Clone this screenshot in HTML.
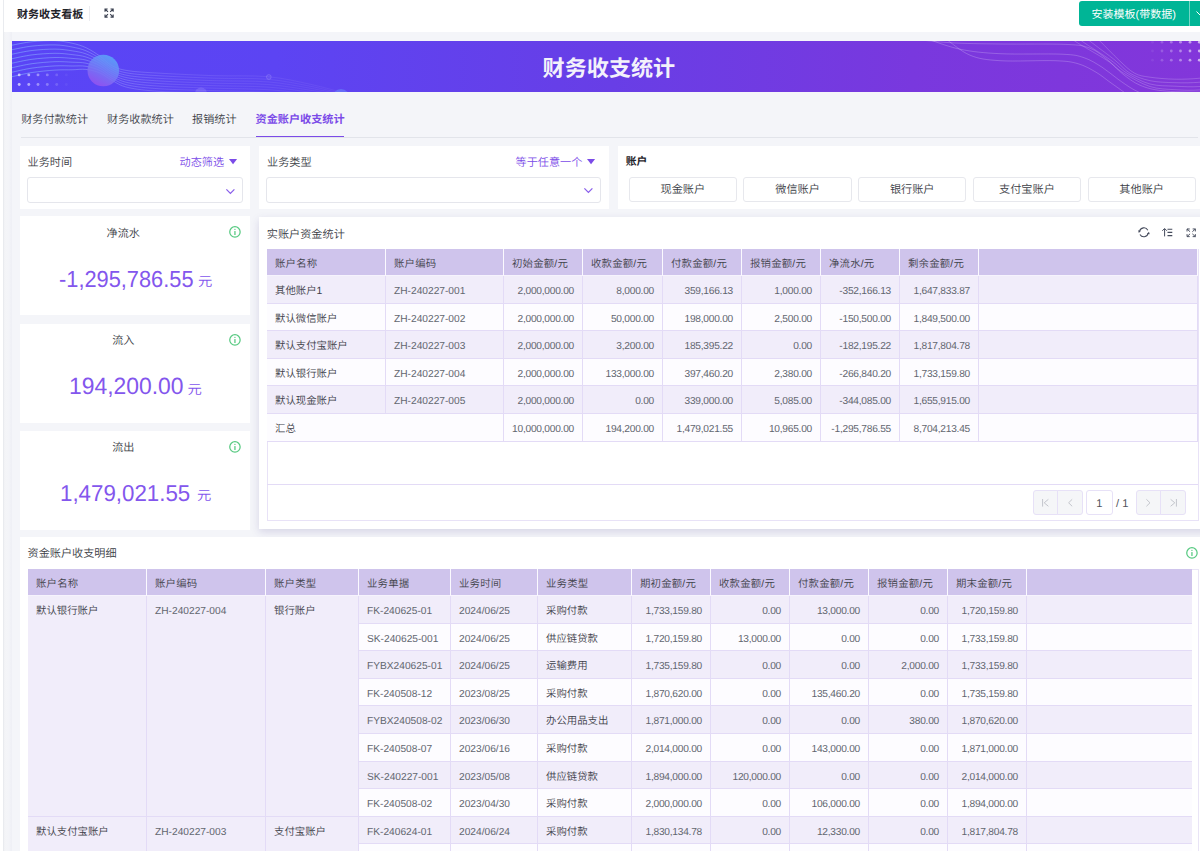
<!DOCTYPE html>
<html lang="zh-CN">
<head>
<meta charset="utf-8">
<title>财务收支看板</title>
<style>
*{box-sizing:border-box;margin:0;padding:0}
html,body{width:1200px;height:851px;overflow:hidden;background:#f4f5f9}
body{position:relative;font-family:"Liberation Sans","Noto Sans CJK SC",sans-serif;color:#3a3d45;font-size:11.15px;font-weight:350;-webkit-font-smoothing:antialiased;text-rendering:geometricPrecision}
.abs{position:absolute}
.t{position:absolute;white-space:nowrap;line-height:1;margin-top:.6px}
.card{position:absolute;background:#fff}
.num{letter-spacing:-0.24px}
/* table cells */
.c{position:absolute;overflow:hidden;white-space:nowrap;font-size:10.4px;font-weight:350;color:#3d4048;padding:0 8px;border-right:1px solid #e3dbf6;border-bottom:1px solid #e3dbf6}
.c.r{text-align:right;letter-spacing:-0.25px}
.c.h{letter-spacing:.2px;background:#cfc4ec;border-right:1px solid #fbfaff;border-bottom:1px solid #f6f3fd;color:#3f424a}
.c.l{color:#62666f;font-weight:400;font-size:10.2px}
.c.nl{border-right:0}
.c.o{background:#f1edfa}
.c.e{background:#fdfcff}
.sel{position:absolute;border:1px solid #e5e6ec;border-radius:3px;background:#fff}
.btn{position:absolute;border:1px solid #e7e8ed;border-radius:3px;background:#fff;text-align:center;font-size:11.15px}
.pg{position:absolute;background:#f5f6f8;border:1px solid #e7e1f7}
svg{position:absolute;overflow:visible}
</style>
</head>
<body>

<div class="abs" style="left:0;top:0;width:3px;height:851px;background:#fff"></div>
<div class="abs" style="left:3px;top:0;width:1px;height:851px;background:#e9ebef"></div>
<div class="abs" style="left:4px;top:32px;width:8px;height:819px;background:linear-gradient(90deg,#f1f2f5 0,#f4f5f8 25%,#f3f4f8 60%,#eeeff5 100%)"></div>
<div class="abs" style="left:4px;top:0;width:1196px;height:32px;background:#fff"></div>
<div class="t" style="left:17px;top:8.3px;font-size:11.05px;font-weight:700;color:#1f2329;line-height:12px">财务收支看板</div>
<div class="abs" style="left:89.3px;top:5.5px;width:1px;height:15px;background:#ebecf0"></div>
<svg style="left:103.8px;top:7.9px" width="10.2" height="10.2" viewBox="0 0 10 10"><path d="M1 3.6V1H3.6M1 1L3.9 3.9M6.4 1H9V3.6M9 1L6.1 3.9M1 6.4V9H3.6M1 9L3.9 6.1M9 6.4V9H6.4M9 9L6.1 6.1" fill="none" stroke="#3a4050" stroke-width="1.1" stroke-linecap="butt" stroke-linejoin="miter"/></svg>
<div class="abs" style="left:1078.7px;top:1px;width:140px;height:24.5px;background:#00b596;border-radius:3px"></div>
<div class="t" style="left:1091.6px;top:8.1px;font-size:11.0px;color:#fff;font-weight:400;line-height:12px">安装模板(带数据)</div>
<div class="abs" style="left:1188.5px;top:1px;width:1px;height:24.5px;background:rgba(255,255,255,.45)"></div>
<svg style="left:1195.5px;top:10.5px" width="8" height="5" viewBox="0 0 8 5"><path d="M0.5 0.5L4 4L7.5 0.5" fill="none" stroke="#fff" stroke-width="1"/></svg>
<div class="abs" style="left:12px;top:40.8px;width:1200px;height:51px;overflow:hidden;background:linear-gradient(90deg,#5945f6 0%,#5c44f3 22%,#683ee6 50%,#7938de 75%,#8336da 100%)">
<svg style="left:0;top:0" width="1200" height="51" viewBox="0 0 1200 51">
<defs><linearGradient id="cg" x1="0.75" y1="0.05" x2="0.3" y2="0.95"><stop offset="0" stop-color="#5aa9f9"/><stop offset="0.5" stop-color="#727ef6"/><stop offset="1" stop-color="#9655ef"/></linearGradient><linearGradient id="lg" gradientUnits="userSpaceOnUse" x1="0" y1="0" x2="340" y2="0"><stop offset="0" stop-color="#8fd0ff" stop-opacity=".62"/><stop offset=".28" stop-color="#b7c8ff" stop-opacity=".42"/><stop offset=".5" stop-color="#cfc8ff" stop-opacity=".2"/><stop offset="1" stop-color="#d9c8ff" stop-opacity=".07"/></linearGradient></defs>
<path d="M0 4.2C3.33 3.62 12.83 1.45 20 0.7C27.17 -0.05 36.33 -0.55 43 -0.3C49.67 -0.05 54.83 1.03 60 2.2C65.17 3.37 69.33 4.53 74 6.7C78.67 8.87 83.67 12.2 88 15.2C92.33 18.2 95.33 22.28 100 24.7C104.67 27.12 108 28.45 116 29.7C124 30.95 133.5 31.37 148 32.2C162.5 33.03 185 34.12 203 34.7C221 35.28 240.17 34.28 256 35.7C271.83 37.12 285.17 40.45 298 43.2C310.83 45.95 327.17 50.7 333 52.2" fill="none" stroke="url(#lg)" stroke-width=".75"/>
<path d="M0 8.7C3.33 8.1 12.83 5.9 20 5.1C27.17 4.3 36.33 3.75 43 3.9C49.67 4.05 54.83 5.02 60 6C65.17 6.98 69.33 7.87 74 9.8C78.67 11.73 83.67 14.77 88 17.6C92.33 20.43 95.33 24.38 100 26.8C104.67 29.22 108 30.77 116 32.1C124 33.43 133.5 33.95 148 34.8C162.5 35.65 185 36.62 203 37.2C221 37.78 240.17 36.97 256 38.3C271.83 39.63 285.17 42.72 298 45.2C310.83 47.68 327.17 51.87 333 53.2" fill="none" stroke="url(#lg)" stroke-width=".75"/>
<path d="M0 13.2C3.33 12.58 12.83 10.35 20 9.5C27.17 8.65 36.33 8.05 43 8.1C49.67 8.15 54.83 9 60 9.8C65.17 10.6 69.33 11.2 74 12.9C78.67 14.6 83.67 17.33 88 20C92.33 22.67 95.33 26.48 100 28.9C104.67 31.32 108 33.08 116 34.5C124 35.92 133.5 36.53 148 37.4C162.5 38.27 185 39.12 203 39.7C221 40.28 240.17 39.65 256 40.9C271.83 42.15 285.17 44.98 298 47.2C310.83 49.42 327.17 53.03 333 54.2" fill="none" stroke="url(#lg)" stroke-width=".75"/>
<path d="M0 17.7C3.33 17.07 12.83 14.8 20 13.9C27.17 13 36.33 12.35 43 12.3C49.67 12.25 54.83 12.98 60 13.6C65.17 14.22 69.33 14.53 74 16C78.67 17.47 83.67 19.9 88 22.4C92.33 24.9 95.33 28.58 100 31C104.67 33.42 108 35.4 116 36.9C124 38.4 133.5 39.12 148 40C162.5 40.88 185 41.62 203 42.2C221 42.78 240.17 42.33 256 43.5C271.83 44.67 285.17 47.25 298 49.2C310.83 51.15 327.17 54.2 333 55.2" fill="none" stroke="url(#lg)" stroke-width=".75"/>
<path d="M0 22.2C3.33 21.55 12.83 19.25 20 18.3C27.17 17.35 36.33 16.65 43 16.5C49.67 16.35 54.83 16.97 60 17.4C65.17 17.83 69.33 17.87 74 19.1C78.67 20.33 83.67 22.47 88 24.8C92.33 27.13 95.33 30.68 100 33.1C104.67 35.52 108 37.72 116 39.3C124 40.88 133.5 41.7 148 42.6C162.5 43.5 185 44.12 203 44.7C221 45.28 240.17 45.02 256 46.1C271.83 47.18 285.17 49.52 298 51.2C310.83 52.88 327.17 55.37 333 56.2" fill="none" stroke="url(#lg)" stroke-width=".75"/>
<path d="M0 26.7C3.33 26.03 12.83 23.7 20 22.7C27.17 21.7 36.33 20.95 43 20.7C49.67 20.45 54.83 20.95 60 21.2C65.17 21.45 69.33 21.2 74 22.2C78.67 23.2 83.67 25.03 88 27.2C92.33 29.37 95.33 32.78 100 35.2C104.67 37.62 108 40.03 116 41.7C124 43.37 133.5 44.28 148 45.2C162.5 46.12 185 46.62 203 47.2C221 47.78 240.17 47.7 256 48.7C271.83 49.7 285.17 51.78 298 53.2C310.83 54.62 327.17 56.53 333 57.2" fill="none" stroke="url(#lg)" stroke-width=".75"/>
<path d="M0 31.2C3.33 30.52 12.83 28.15 20 27.1C27.17 26.05 36.33 25.25 43 24.9C49.67 24.55 54.83 24.93 60 25C65.17 25.07 69.33 24.53 74 25.3C78.67 26.07 83.67 27.6 88 29.6C92.33 31.6 95.33 34.88 100 37.3C104.67 39.72 108 42.35 116 44.1C124 45.85 133.5 46.87 148 47.8C162.5 48.73 185 49.12 203 49.7C221 50.28 240.17 50.38 256 51.3C271.83 52.22 285.17 54.05 298 55.2C310.83 56.35 327.17 57.7 333 58.2" fill="none" stroke="url(#lg)" stroke-width=".75"/>
<path d="M0 35.7C3.33 35 12.83 32.6 20 31.5C27.17 30.4 36.33 29.55 43 29.1C49.67 28.65 54.83 28.92 60 28.8C65.17 28.68 69.33 27.87 74 28.4C78.67 28.93 83.67 30.17 88 32C92.33 33.83 95.33 36.98 100 39.4C104.67 41.82 108 44.67 116 46.5C124 48.33 133.5 49.45 148 50.4C162.5 51.35 185 51.62 203 52.2C221 52.78 240.17 53.07 256 53.9C271.83 54.73 285.17 56.32 298 57.2C310.83 58.08 327.17 58.87 333 59.2" fill="none" stroke="url(#lg)" stroke-width=".75"/>
<circle cx="91.3" cy="29.5" r="15.8" fill="url(#cg)" fill-opacity=".86"/>
<circle cx="7.2" cy="33.9" r="1.45" fill="#fff" fill-opacity="0.66"/>
<circle cx="16.8" cy="33.9" r="1.45" fill="#fff" fill-opacity="0.54"/>
<circle cx="26" cy="33.9" r="1.45" fill="#fff" fill-opacity="0.41"/>
<circle cx="35.3" cy="33.9" r="1.45" fill="#fff" fill-opacity="0.29"/>
<circle cx="44.7" cy="33.9" r="1.45" fill="#fff" fill-opacity="0.16"/>
<circle cx="54.3" cy="33.9" r="1.45" fill="#fff" fill-opacity="0.05"/>
<circle cx="7.2" cy="43.5" r="1.45" fill="#fff" fill-opacity="0.66"/>
<circle cx="16.8" cy="43.5" r="1.45" fill="#fff" fill-opacity="0.54"/>
<circle cx="26" cy="43.5" r="1.45" fill="#fff" fill-opacity="0.41"/>
<circle cx="35.3" cy="43.5" r="1.45" fill="#fff" fill-opacity="0.29"/>
<circle cx="44.7" cy="43.5" r="1.45" fill="#fff" fill-opacity="0.16"/>
<circle cx="54.3" cy="43.5" r="1.45" fill="#fff" fill-opacity="0.05"/>
<circle cx="256.8" cy="36" r="2.4" fill="#fff" fill-opacity=".05" stroke="#fff" stroke-opacity=".2" stroke-width=".7"/>
<circle cx="189" cy="52.5" r="6" fill="#b9b3ff" fill-opacity=".22"/>
<circle cx="329" cy="57" r="9" fill="#6f9bff" fill-opacity=".45"/>
<path d="M893 -2.8C900.5 -2.05 922.17 0.73 938 1.7C953.83 2.67 968.67 2.72 988 3C1007.33 3.28 1039 2.7 1054 3.4C1069 4.1 1071 4.57 1078 7.2C1085 9.83 1090.5 14.87 1096 19.2C1101.5 23.53 1105.67 29.03 1111 33.2C1116.33 37.37 1121.5 41.45 1128 44.2C1134.5 46.95 1140 48.53 1150 49.7C1160 50.87 1177.5 51.28 1188 51.2C1198.5 51.12 1208.83 49.53 1213 49.2" fill="none" stroke="#fff" stroke-opacity=".3" stroke-width=".7"/>
<path d="M913 -2.8C918.83 -0.97 935.5 5.62 948 8.2C960.5 10.78 971 11.87 988 12.7C1005 13.53 1036 12.53 1050 13.2C1064 13.87 1065.33 14.53 1072 16.7C1078.67 18.87 1084.33 22.62 1090 26.2C1095.67 29.78 1100.83 34.53 1106 38.2C1111.17 41.87 1116 45.37 1121 48.2C1126 51.03 1133.5 54.03 1136 55.2" fill="none" stroke="#fff" stroke-opacity=".3" stroke-width=".7"/>
<path d="M933 -2.8C937.17 0.03 948.83 10.45 958 14.2C967.17 17.95 973.83 18.78 988 19.7C1002.17 20.62 1030 19.2 1043 19.7C1056 20.2 1059.17 20.78 1066 22.7C1072.83 24.62 1078.67 28.12 1084 31.2C1089.33 34.28 1093.33 37.87 1098 41.2C1102.67 44.53 1108.67 48.7 1112 51.2C1115.33 53.7 1117 55.37 1118 56.2" fill="none" stroke="#fff" stroke-opacity=".3" stroke-width=".7"/>
<path d="M1050 -10.8C1052.17 -8.97 1055.55 -4.8 1063 0.2C1070.45 5.2 1086.58 13.87 1094.7 19.2C1102.82 24.53 1104.48 27.82 1111.7 32.2C1118.92 36.58 1129.45 42.75 1138 45.5C1146.55 48.25 1154.67 48.13 1163 48.7C1171.33 49.27 1179.67 49.53 1188 48.9C1196.33 48.27 1208.83 45.57 1213 44.9" fill="none" stroke="#fff" stroke-opacity=".28" stroke-width=".7"/>
<path d="M1057 -10.8C1059.17 -8.97 1063.03 -4.8 1070 0.2C1076.97 5.2 1091.3 13.87 1098.8 19.2C1106.3 24.53 1108.47 28.23 1115 32.2C1121.53 36.17 1130 40.83 1138 43C1146 45.17 1154.67 44.78 1163 45.2C1171.33 45.62 1179.67 46.12 1188 45.5C1196.33 44.88 1208.83 42.17 1213 41.5" fill="none" stroke="#fff" stroke-opacity=".28" stroke-width=".7"/>
<path d="M1065 -10.8C1067.17 -8.97 1071.67 -4.8 1078 0.2C1084.33 5.2 1096.33 13.87 1103 19.2C1109.67 24.53 1112.17 28.78 1118 32.2C1123.83 35.62 1130.5 38.12 1138 39.7C1145.5 41.28 1154.67 41.45 1163 41.7C1171.33 41.95 1179.67 41.95 1188 41.2C1196.33 40.45 1208.83 37.87 1213 37.2" fill="none" stroke="#fff" stroke-opacity=".28" stroke-width=".7"/>
<path d="M1075 -10.8C1077.17 -8.97 1082.67 -4.8 1088 0.2C1093.33 5.2 1101.25 13.87 1107 19.2C1112.75 24.53 1117.33 29.37 1122.5 32.2C1127.67 35.03 1131.25 35.2 1138 36.2C1144.75 37.2 1154.67 38.03 1163 38.2C1171.33 38.37 1179.67 38.03 1188 37.2C1196.33 36.37 1208.83 33.87 1213 33.2" fill="none" stroke="#fff" stroke-opacity=".28" stroke-width=".7"/>
<circle cx="1140.5" cy="1.2" r="1.4" fill="#fff" fill-opacity="0.07"/>
<circle cx="1150" cy="1.2" r="1.4" fill="#fff" fill-opacity="0.18"/>
<circle cx="1159.3" cy="1.2" r="1.4" fill="#fff" fill-opacity="0.29"/>
<circle cx="1168.5" cy="1.2" r="1.4" fill="#fff" fill-opacity="0.4"/>
<circle cx="1178" cy="1.2" r="1.4" fill="#fff" fill-opacity="0.51"/>
<circle cx="1187.3" cy="1.2" r="1.4" fill="#fff" fill-opacity="0.62"/>
<circle cx="1140.5" cy="10" r="1.4" fill="#fff" fill-opacity="0.07"/>
<circle cx="1150" cy="10" r="1.4" fill="#fff" fill-opacity="0.18"/>
<circle cx="1159.3" cy="10" r="1.4" fill="#fff" fill-opacity="0.29"/>
<circle cx="1168.5" cy="10" r="1.4" fill="#fff" fill-opacity="0.4"/>
<circle cx="1178" cy="10" r="1.4" fill="#fff" fill-opacity="0.51"/>
<circle cx="1187.3" cy="10" r="1.4" fill="#fff" fill-opacity="0.62"/>
<circle cx="1140.5" cy="19.2" r="1.4" fill="#fff" fill-opacity="0.07"/>
<circle cx="1150" cy="19.2" r="1.4" fill="#fff" fill-opacity="0.18"/>
<circle cx="1159.3" cy="19.2" r="1.4" fill="#fff" fill-opacity="0.29"/>
<circle cx="1168.5" cy="19.2" r="1.4" fill="#fff" fill-opacity="0.4"/>
<circle cx="1178" cy="19.2" r="1.4" fill="#fff" fill-opacity="0.51"/>
<circle cx="1187.3" cy="19.2" r="1.4" fill="#fff" fill-opacity="0.62"/>
</svg>
<div class="t" style="left:530.6px;top:15.7px;font-size:22.1px;font-weight:700;color:#f3f1fb;line-height:23px">财务收支统计</div>
</div>
<div class="abs" style="left:21px;top:136.6px;width:1176.5px;height:1px;background:#e2e4ea"></div>
<div class="t" style="left:21.2px;top:113.6px;font-size:11.15px;line-height:12px;color:#3c3f47">财务付款统计</div>
<div class="t" style="left:107px;top:113.6px;font-size:11.15px;line-height:12px;color:#3c3f47">财务收款统计</div>
<div class="t" style="left:192px;top:113.6px;font-size:11.15px;line-height:12px;color:#3c3f47">报销统计</div>
<div class="t" style="left:255.5px;top:113.6px;font-size:11.15px;line-height:12px;color:#7b4be8;font-weight:700">资金账户收支统计</div>
<div class="abs" style="left:255.5px;top:135.7px;width:88.3px;height:1.7px;background:#7b4be8"></div>
<div class="card" style="left:20px;top:145.5px;width:230px;height:63.25px"></div>
<div class="card" style="left:258.5px;top:145.5px;width:350.2px;height:63.25px"></div>
<div class="card" style="left:617.5px;top:145.5px;width:590px;height:63.25px"></div>
<div class="t" style="left:27.5px;top:156.6px;font-size:11.15px;line-height:12px">业务时间</div>
<div class="t" style="left:179.5px;top:156.6px;font-size:11.15px;line-height:12px;color:#7b4be8">动态筛选</div>
<svg style="left:228.5px;top:159.3px" width="8.1" height="5.2" viewBox="0 0 8.1 5.2"><path d="M0 0H8.1L4.05 5.2Z" fill="#7b4be8"/></svg>
<div class="sel" style="left:27px;top:177px;width:215.5px;height:25.5px"></div>
<svg style="left:226.3px;top:188.8px" width="8.8" height="5" viewBox="0 0 8.8 5"><path d="M0.4 0.4L4.4 4.4L8.4 0.4" fill="none" stroke="#7b4be8" stroke-width="1.25" stroke-opacity=".9"/></svg>
<div class="t" style="left:267px;top:156.6px;font-size:11.15px;line-height:12px">业务类型</div>
<div class="t" style="left:515.5px;top:156.6px;font-size:11.15px;line-height:12px;color:#7b4be8">等于任意一个</div>
<svg style="left:586.9px;top:159.3px" width="8.1" height="5.2" viewBox="0 0 8.1 5.2"><path d="M0 0H8.1L4.05 5.2Z" fill="#7b4be8"/></svg>
<div class="sel" style="left:266.2px;top:177px;width:335px;height:25.5px"></div>
<svg style="left:583.5px;top:188.1px" width="8.8" height="5" viewBox="0 0 8.8 5"><path d="M0.4 0.4L4.4 4.4L8.4 0.4" fill="none" stroke="#7b4be8" stroke-width="1.25" stroke-opacity=".9"/></svg>
<div class="t" style="left:625.7px;top:155.9px;font-size:10.8px;line-height:12px;font-weight:700;color:#1f2329">账户</div>
<div class="btn" style="left:628.75px;top:176.5px;width:108.2px;height:25px;line-height:25.4px">现金账户</div>
<div class="btn" style="left:743.45px;top:176.5px;width:108.2px;height:25px;line-height:25.4px">微信账户</div>
<div class="btn" style="left:858.15px;top:176.5px;width:108.2px;height:25px;line-height:25.4px">银行账户</div>
<div class="btn" style="left:972.85px;top:176.5px;width:108.2px;height:25px;line-height:25.4px">支付宝账户</div>
<div class="btn" style="left:1087.55px;top:176.5px;width:108.2px;height:25px;line-height:25.4px">其他账户</div>
<div class="card" style="left:20px;top:216.3px;width:230px;height:99.1px"></div>
<div class="t" style="left:20px;width:206.6px;text-align:center;top:227.5px;font-size:11.15px;line-height:12px">净流水</div>
<svg style="left:229px;top:226.4px" width="11.9" height="11.9" viewBox="0 0 12 12"><circle cx="6" cy="6" r="5.25" fill="none" stroke="#58ca82" stroke-width="1.25"/><circle cx="6" cy="3.4" r=".75" fill="#58ca82"/><rect x="5.35" y="5" width="1.3" height="4.2" rx=".4" fill="#58ca82"/></svg>
<div class="t" style="left:59px;top:265px;line-height:26px;color:#8356ed;font-size:23.2px;font-weight:400;transform:scaleX(0.94);transform-origin:0 0">-1,295,786.55</div>
<div class="t" style="left:198.1px;top:273.6px;line-height:16px;color:#8356ed;font-size:14.3px;transform:scaleY(.9);transform-origin:0 100%">元</div>
<div class="card" style="left:20px;top:323.7px;width:230px;height:99.1px"></div>
<div class="t" style="left:20px;width:206.6px;text-align:center;top:334.9px;font-size:11.15px;line-height:12px">流入</div>
<svg style="left:229px;top:333.8px" width="11.9" height="11.9" viewBox="0 0 12 12"><circle cx="6" cy="6" r="5.25" fill="none" stroke="#58ca82" stroke-width="1.25"/><circle cx="6" cy="3.4" r=".75" fill="#58ca82"/><rect x="5.35" y="5" width="1.3" height="4.2" rx=".4" fill="#58ca82"/></svg>
<div class="t" style="left:69.4px;top:373.4px;line-height:26px;color:#8356ed;font-size:23.6px;font-weight:400;transform:scaleX(0.97);transform-origin:0 0">194,200.00</div>
<div class="t" style="left:187.5px;top:381px;line-height:16px;color:#8356ed;font-size:14.3px;transform:scaleY(.9);transform-origin:0 100%">元</div>
<div class="card" style="left:20px;top:430.6px;width:230px;height:99.1px"></div>
<div class="t" style="left:20px;width:206.6px;text-align:center;top:441.8px;font-size:11.15px;line-height:12px">流出</div>
<svg style="left:229px;top:440.7px" width="11.9" height="11.9" viewBox="0 0 12 12"><circle cx="6" cy="6" r="5.25" fill="none" stroke="#58ca82" stroke-width="1.25"/><circle cx="6" cy="3.4" r=".75" fill="#58ca82"/><rect x="5.35" y="5" width="1.3" height="4.2" rx=".4" fill="#58ca82"/></svg>
<div class="t" style="left:60.25px;top:479.1px;line-height:26px;color:#8356ed;font-size:23px;font-weight:400;transform:scaleX(0.97);transform-origin:0 0">1,479,021.55</div>
<div class="t" style="left:197.1px;top:487.9px;line-height:16px;color:#8356ed;font-size:14.3px;transform:scaleY(.9);transform-origin:0 100%">元</div>
<div class="card" style="left:258.75px;top:216.6px;width:950px;height:312.6px;box-shadow:0 3px 8px rgba(70,60,140,.17)"></div>
<div class="t" style="left:266.8px;top:228.3px;font-size:11.15px;line-height:12px">实账户资金统计</div>
<svg style="left:1137.7px;top:227.3px" width="11.8" height="10.6" viewBox="0 0 11.8 10.6"><path d="M1.55 4.37A4.45 4.45 0 0 1 9.83 3.21" fill="none" stroke="#454b5c" stroke-width="1.05"/><path d="M0.1 3.3L2.7 3.9L0.8 5.9Z" fill="#454b5c"/><path d="M10.25 6.23A4.45 4.45 0 0 1 1.97 7.39" fill="none" stroke="#454b5c" stroke-width="1.05"/><path d="M11.7 7.3L9.1 6.7L11 4.7Z" fill="#454b5c"/></svg>
<svg style="left:1161.8px;top:228.4px" width="10.4" height="8.6" viewBox="0 0 10.4 8.6"><path d="M2.6 8.4V0.8M0.3 2.8L2.6 0.5L4.9 2.8" fill="none" stroke="#454b5c" stroke-width="1"/><path d="M5.5 1.2H10.3M5.5 4.4H10.3M5.5 7.6H10.3" fill="none" stroke="#454b5c" stroke-width="1.1"/></svg>
<svg style="left:1185.6px;top:227.9px" width="10.4" height="9.6" viewBox="0 0 10 10" preserveAspectRatio="none"><path d="M1 3.6V1H3.6M1 1L3.9 3.9M6.4 1H9V3.6M9 1L6.1 3.9M1 6.4V9H3.6M1 9L3.9 6.1M9 6.4V9H6.4M9 9L6.1 6.1" fill="none" stroke="#454b5c" stroke-width=".95" stroke-linecap="butt" stroke-linejoin="miter"/></svg>
<div class="abs" style="left:266.5px;top:248.75px;width:932px;height:272.15px;border:1px solid #e8e2f7"></div>
<div class="abs" style="left:267px;top:484px;width:931px;height:1px;background:#e3dbf6"></div>
<div class="c h" style="left:267px;top:249px;width:119px;height:27px;line-height:31.4px">账户名称</div>
<div class="c h" style="left:386px;top:249px;width:118px;height:27px;line-height:31.4px">账户编码</div>
<div class="c h" style="left:504px;top:249px;width:79px;height:27px;line-height:31.4px">初始金额/元</div>
<div class="c h" style="left:583px;top:249px;width:80px;height:27px;line-height:31.4px">收款金额/元</div>
<div class="c h" style="left:663px;top:249px;width:79px;height:27px;line-height:31.4px">付款金额/元</div>
<div class="c h" style="left:742px;top:249px;width:79px;height:27px;line-height:31.4px">报销金额/元</div>
<div class="c h" style="left:821px;top:249px;width:79px;height:27px;line-height:31.4px">净流水/元</div>
<div class="c h" style="left:900px;top:249px;width:79px;height:27px;line-height:31.4px">剩余金额/元</div>
<div class="c h" style="left:979px;top:249px;width:219px;height:27px;line-height:31.4px"></div>
<div class="c o" style="left:267px;top:276px;width:119px;height:28px;line-height:31.4px">其他账户1</div>
<div class="c o l" style="left:386px;top:276px;width:118px;height:28px;line-height:31.4px">ZH-240227-001</div>
<div class="c o r l" style="left:504px;top:276px;width:79px;height:28px;line-height:31.4px">2,000,000.00</div>
<div class="c o r l" style="left:583px;top:276px;width:80px;height:28px;line-height:31.4px">8,000.00</div>
<div class="c o r l" style="left:663px;top:276px;width:79px;height:28px;line-height:31.4px">359,166.13</div>
<div class="c o r l" style="left:742px;top:276px;width:79px;height:28px;line-height:31.4px">1,000.00</div>
<div class="c o r l" style="left:821px;top:276px;width:79px;height:28px;line-height:31.4px">-352,166.13</div>
<div class="c o r l" style="left:900px;top:276px;width:79px;height:28px;line-height:31.4px">1,647,833.87</div>
<div class="c o" style="left:979px;top:276px;width:219px;height:28px;line-height:31.4px"></div>
<div class="c e" style="left:267px;top:304px;width:119px;height:27px;line-height:31.4px">默认微信账户</div>
<div class="c e l" style="left:386px;top:304px;width:118px;height:27px;line-height:31.4px">ZH-240227-002</div>
<div class="c e r l" style="left:504px;top:304px;width:79px;height:27px;line-height:31.4px">2,000,000.00</div>
<div class="c e r l" style="left:583px;top:304px;width:80px;height:27px;line-height:31.4px">50,000.00</div>
<div class="c e r l" style="left:663px;top:304px;width:79px;height:27px;line-height:31.4px">198,000.00</div>
<div class="c e r l" style="left:742px;top:304px;width:79px;height:27px;line-height:31.4px">2,500.00</div>
<div class="c e r l" style="left:821px;top:304px;width:79px;height:27px;line-height:31.4px">-150,500.00</div>
<div class="c e r l" style="left:900px;top:304px;width:79px;height:27px;line-height:31.4px">1,849,500.00</div>
<div class="c e" style="left:979px;top:304px;width:219px;height:27px;line-height:31.4px"></div>
<div class="c o" style="left:267px;top:331px;width:119px;height:28px;line-height:31.4px">默认支付宝账户</div>
<div class="c o l" style="left:386px;top:331px;width:118px;height:28px;line-height:31.4px">ZH-240227-003</div>
<div class="c o r l" style="left:504px;top:331px;width:79px;height:28px;line-height:31.4px">2,000,000.00</div>
<div class="c o r l" style="left:583px;top:331px;width:80px;height:28px;line-height:31.4px">3,200.00</div>
<div class="c o r l" style="left:663px;top:331px;width:79px;height:28px;line-height:31.4px">185,395.22</div>
<div class="c o r l" style="left:742px;top:331px;width:79px;height:28px;line-height:31.4px">0.00</div>
<div class="c o r l" style="left:821px;top:331px;width:79px;height:28px;line-height:31.4px">-182,195.22</div>
<div class="c o r l" style="left:900px;top:331px;width:79px;height:28px;line-height:31.4px">1,817,804.78</div>
<div class="c o" style="left:979px;top:331px;width:219px;height:28px;line-height:31.4px"></div>
<div class="c e" style="left:267px;top:359px;width:119px;height:27px;line-height:31.4px">默认银行账户</div>
<div class="c e l" style="left:386px;top:359px;width:118px;height:27px;line-height:31.4px">ZH-240227-004</div>
<div class="c e r l" style="left:504px;top:359px;width:79px;height:27px;line-height:31.4px">2,000,000.00</div>
<div class="c e r l" style="left:583px;top:359px;width:80px;height:27px;line-height:31.4px">133,000.00</div>
<div class="c e r l" style="left:663px;top:359px;width:79px;height:27px;line-height:31.4px">397,460.20</div>
<div class="c e r l" style="left:742px;top:359px;width:79px;height:27px;line-height:31.4px">2,380.00</div>
<div class="c e r l" style="left:821px;top:359px;width:79px;height:27px;line-height:31.4px">-266,840.20</div>
<div class="c e r l" style="left:900px;top:359px;width:79px;height:27px;line-height:31.4px">1,733,159.80</div>
<div class="c e" style="left:979px;top:359px;width:219px;height:27px;line-height:31.4px"></div>
<div class="c o" style="left:267px;top:386px;width:119px;height:28px;line-height:31.4px">默认现金账户</div>
<div class="c o l" style="left:386px;top:386px;width:118px;height:28px;line-height:31.4px">ZH-240227-005</div>
<div class="c o r l" style="left:504px;top:386px;width:79px;height:28px;line-height:31.4px">2,000,000.00</div>
<div class="c o r l" style="left:583px;top:386px;width:80px;height:28px;line-height:31.4px">0.00</div>
<div class="c o r l" style="left:663px;top:386px;width:79px;height:28px;line-height:31.4px">339,000.00</div>
<div class="c o r l" style="left:742px;top:386px;width:79px;height:28px;line-height:31.4px">5,085.00</div>
<div class="c o r l" style="left:821px;top:386px;width:79px;height:28px;line-height:31.4px">-344,085.00</div>
<div class="c o r l" style="left:900px;top:386px;width:79px;height:28px;line-height:31.4px">1,655,915.00</div>
<div class="c o" style="left:979px;top:386px;width:219px;height:28px;line-height:31.4px"></div>
<div class="c e" style="left:267px;top:414px;width:237px;height:28px;line-height:31.4px">汇总</div>
<div class="c e r l" style="left:504px;top:414px;width:79px;height:28px;line-height:31.4px">10,000,000.00</div>
<div class="c e r l" style="left:583px;top:414px;width:80px;height:28px;line-height:31.4px">194,200.00</div>
<div class="c e r l" style="left:663px;top:414px;width:79px;height:28px;line-height:31.4px">1,479,021.55</div>
<div class="c e r l" style="left:742px;top:414px;width:79px;height:28px;line-height:31.4px">10,965.00</div>
<div class="c e r l" style="left:821px;top:414px;width:79px;height:28px;line-height:31.4px">-1,295,786.55</div>
<div class="c e r l" style="left:900px;top:414px;width:79px;height:28px;line-height:31.4px">8,704,213.45</div>
<div class="c e" style="left:979px;top:414px;width:219px;height:28px;line-height:31.4px"></div>
<div class="pg" style="left:1033px;top:490.4px;width:25px;height:25px;border-radius:3px 0 0 3px"></div>
<div class="pg" style="left:1057px;top:490.4px;width:25.5px;height:25px;border-radius:0 3px 3px 0"></div>
<div class="pg" style="left:1086.2px;top:490.4px;width:26.4px;height:25px;border-radius:3px;background:#fff"></div>
<div class="pg" style="left:1135.8px;top:490.4px;width:25px;height:25px;border-radius:3px 0 0 3px"></div>
<div class="pg" style="left:1160px;top:490.4px;width:25.8px;height:25px;border-radius:0 3px 3px 0"></div>
<svg style="left:1041.5px;top:499px" width="7" height="7.6" viewBox="0 0 7 7.6"><path d="M0.6 0V7.6M6.4 0.3L2.2 3.8L6.4 7.3" fill="none" stroke="#c3c5cc" stroke-width="1"/></svg>
<svg style="left:1067.5px;top:499px" width="4.6" height="7.6" viewBox="0 0 4.6 7.6"><path d="M4.2 0.3L0.6 3.8L4.2 7.3" fill="none" stroke="#c3c5cc" stroke-width="1"/></svg>
<svg style="left:1146.3px;top:499px" width="4.6" height="7.6" viewBox="0 0 4.6 7.6"><path d="M0.4 0.3L4 3.8L0.4 7.3" fill="none" stroke="#c3c5cc" stroke-width="1"/></svg>
<svg style="left:1169.8px;top:499px" width="7" height="7.6" viewBox="0 0 7 7.6"><path d="M6.4 0V7.6M0.6 0.3L4.8 3.8L0.6 7.3" fill="none" stroke="#c3c5cc" stroke-width="1"/></svg>
<div class="t" style="left:1086.2px;width:26.4px;text-align:center;top:497.3px;font-size:11.15px;line-height:12px;color:#50535b">1</div>
<div class="t" style="left:1116px;top:497.3px;font-size:11.15px;line-height:12px;color:#50535b">/ 1</div>
<div class="card" style="left:20px;top:537px;width:1190px;height:330px"></div>
<div class="t" style="left:27.5px;top:547.8px;font-size:11.15px;line-height:12px">资金账户收支明细</div>
<svg style="left:1185.7px;top:547.0px" width="11.9" height="11.9" viewBox="0 0 12 12"><circle cx="6" cy="6" r="5.25" fill="none" stroke="#58ca82" stroke-width="1.25"/><circle cx="6" cy="3.4" r=".75" fill="#58ca82"/><rect x="5.35" y="5" width="1.3" height="4.2" rx=".4" fill="#58ca82"/></svg>
<div class="abs" style="left:27.5px;top:569.25px;width:1171px;height:300px;border:1px solid #e9e4f6"></div>
<div class="c h" style="left:28px;top:569px;width:119px;height:27px;line-height:31.4px">账户名称</div>
<div class="c h" style="left:147px;top:569px;width:119px;height:27px;line-height:31.4px">账户编码</div>
<div class="c h" style="left:266px;top:569px;width:93px;height:27px;line-height:31.4px">账户类型</div>
<div class="c h" style="left:359px;top:569px;width:92px;height:27px;line-height:31.4px">业务单据</div>
<div class="c h" style="left:451px;top:569px;width:87px;height:27px;line-height:31.4px">业务时间</div>
<div class="c h" style="left:538px;top:569px;width:94px;height:27px;line-height:31.4px">业务类型</div>
<div class="c h" style="left:632px;top:569px;width:79px;height:27px;line-height:31.4px">期初金额/元</div>
<div class="c h" style="left:711px;top:569px;width:79px;height:27px;line-height:31.4px">收款金额/元</div>
<div class="c h" style="left:790px;top:569px;width:79px;height:27px;line-height:31.4px">付款金额/元</div>
<div class="c h" style="left:869px;top:569px;width:79px;height:27px;line-height:31.4px">报销金额/元</div>
<div class="c h" style="left:948px;top:569px;width:79px;height:27px;line-height:31.4px">期末金额/元</div>
<div class="c h nl" style="left:1027px;top:569px;width:165px;height:27px;line-height:31.4px"></div>
<div class="c o" style="left:28px;top:596px;width:119px;height:221px;line-height:31.46px">默认银行账户</div>
<div class="c o l" style="left:147px;top:596px;width:119px;height:221px;line-height:31.46px">ZH-240227-004</div>
<div class="c o" style="left:266px;top:596px;width:93px;height:221px;line-height:31.46px">银行账户</div>
<div class="c o l" style="left:359px;top:596px;width:92px;height:28px;line-height:31.46px">FK-240625-01</div>
<div class="c o l" style="left:451px;top:596px;width:87px;height:28px;line-height:31.46px">2024/06/25</div>
<div class="c o" style="left:538px;top:596px;width:94px;height:28px;line-height:31.46px">采购付款</div>
<div class="c o r l" style="left:632px;top:596px;width:79px;height:28px;line-height:31.46px">1,733,159.80</div>
<div class="c o r l" style="left:711px;top:596px;width:79px;height:28px;line-height:31.46px">0.00</div>
<div class="c o r l" style="left:790px;top:596px;width:79px;height:28px;line-height:31.46px">13,000.00</div>
<div class="c o r l" style="left:869px;top:596px;width:79px;height:28px;line-height:31.46px">0.00</div>
<div class="c o r l" style="left:948px;top:596px;width:79px;height:28px;line-height:31.46px">1,720,159.80</div>
<div class="c o nl" style="left:1027px;top:596px;width:165px;height:28px;line-height:31.46px"></div>
<div class="c e l" style="left:359px;top:624px;width:92px;height:27px;line-height:31.46px">SK-240625-001</div>
<div class="c e l" style="left:451px;top:624px;width:87px;height:27px;line-height:31.46px">2024/06/25</div>
<div class="c e" style="left:538px;top:624px;width:94px;height:27px;line-height:31.46px">供应链贷款</div>
<div class="c e r l" style="left:632px;top:624px;width:79px;height:27px;line-height:31.46px">1,720,159.80</div>
<div class="c e r l" style="left:711px;top:624px;width:79px;height:27px;line-height:31.46px">13,000.00</div>
<div class="c e r l" style="left:790px;top:624px;width:79px;height:27px;line-height:31.46px">0.00</div>
<div class="c e r l" style="left:869px;top:624px;width:79px;height:27px;line-height:31.46px">0.00</div>
<div class="c e r l" style="left:948px;top:624px;width:79px;height:27px;line-height:31.46px">1,733,159.80</div>
<div class="c e nl" style="left:1027px;top:624px;width:165px;height:27px;line-height:31.46px"></div>
<div class="c o l" style="left:359px;top:651px;width:92px;height:28px;line-height:31.46px">FYBX240625-01</div>
<div class="c o l" style="left:451px;top:651px;width:87px;height:28px;line-height:31.46px">2024/06/25</div>
<div class="c o" style="left:538px;top:651px;width:94px;height:28px;line-height:31.46px">运输费用</div>
<div class="c o r l" style="left:632px;top:651px;width:79px;height:28px;line-height:31.46px">1,735,159.80</div>
<div class="c o r l" style="left:711px;top:651px;width:79px;height:28px;line-height:31.46px">0.00</div>
<div class="c o r l" style="left:790px;top:651px;width:79px;height:28px;line-height:31.46px">0.00</div>
<div class="c o r l" style="left:869px;top:651px;width:79px;height:28px;line-height:31.46px">2,000.00</div>
<div class="c o r l" style="left:948px;top:651px;width:79px;height:28px;line-height:31.46px">1,733,159.80</div>
<div class="c o nl" style="left:1027px;top:651px;width:165px;height:28px;line-height:31.46px"></div>
<div class="c e l" style="left:359px;top:679px;width:92px;height:27px;line-height:31.46px">FK-240508-12</div>
<div class="c e l" style="left:451px;top:679px;width:87px;height:27px;line-height:31.46px">2023/08/25</div>
<div class="c e" style="left:538px;top:679px;width:94px;height:27px;line-height:31.46px">采购付款</div>
<div class="c e r l" style="left:632px;top:679px;width:79px;height:27px;line-height:31.46px">1,870,620.00</div>
<div class="c e r l" style="left:711px;top:679px;width:79px;height:27px;line-height:31.46px">0.00</div>
<div class="c e r l" style="left:790px;top:679px;width:79px;height:27px;line-height:31.46px">135,460.20</div>
<div class="c e r l" style="left:869px;top:679px;width:79px;height:27px;line-height:31.46px">0.00</div>
<div class="c e r l" style="left:948px;top:679px;width:79px;height:27px;line-height:31.46px">1,735,159.80</div>
<div class="c e nl" style="left:1027px;top:679px;width:165px;height:27px;line-height:31.46px"></div>
<div class="c o l" style="left:359px;top:706px;width:92px;height:28px;line-height:31.46px">FYBX240508-02</div>
<div class="c o l" style="left:451px;top:706px;width:87px;height:28px;line-height:31.46px">2023/06/30</div>
<div class="c o" style="left:538px;top:706px;width:94px;height:28px;line-height:31.46px">办公用品支出</div>
<div class="c o r l" style="left:632px;top:706px;width:79px;height:28px;line-height:31.46px">1,871,000.00</div>
<div class="c o r l" style="left:711px;top:706px;width:79px;height:28px;line-height:31.46px">0.00</div>
<div class="c o r l" style="left:790px;top:706px;width:79px;height:28px;line-height:31.46px">0.00</div>
<div class="c o r l" style="left:869px;top:706px;width:79px;height:28px;line-height:31.46px">380.00</div>
<div class="c o r l" style="left:948px;top:706px;width:79px;height:28px;line-height:31.46px">1,870,620.00</div>
<div class="c o nl" style="left:1027px;top:706px;width:165px;height:28px;line-height:31.46px"></div>
<div class="c e l" style="left:359px;top:734px;width:92px;height:28px;line-height:31.46px">FK-240508-07</div>
<div class="c e l" style="left:451px;top:734px;width:87px;height:28px;line-height:31.46px">2023/06/16</div>
<div class="c e" style="left:538px;top:734px;width:94px;height:28px;line-height:31.46px">采购付款</div>
<div class="c e r l" style="left:632px;top:734px;width:79px;height:28px;line-height:31.46px">2,014,000.00</div>
<div class="c e r l" style="left:711px;top:734px;width:79px;height:28px;line-height:31.46px">0.00</div>
<div class="c e r l" style="left:790px;top:734px;width:79px;height:28px;line-height:31.46px">143,000.00</div>
<div class="c e r l" style="left:869px;top:734px;width:79px;height:28px;line-height:31.46px">0.00</div>
<div class="c e r l" style="left:948px;top:734px;width:79px;height:28px;line-height:31.46px">1,871,000.00</div>
<div class="c e nl" style="left:1027px;top:734px;width:165px;height:28px;line-height:31.46px"></div>
<div class="c o l" style="left:359px;top:762px;width:92px;height:27px;line-height:31.46px">SK-240227-001</div>
<div class="c o l" style="left:451px;top:762px;width:87px;height:27px;line-height:31.46px">2023/05/08</div>
<div class="c o" style="left:538px;top:762px;width:94px;height:27px;line-height:31.46px">供应链贷款</div>
<div class="c o r l" style="left:632px;top:762px;width:79px;height:27px;line-height:31.46px">1,894,000.00</div>
<div class="c o r l" style="left:711px;top:762px;width:79px;height:27px;line-height:31.46px">120,000.00</div>
<div class="c o r l" style="left:790px;top:762px;width:79px;height:27px;line-height:31.46px">0.00</div>
<div class="c o r l" style="left:869px;top:762px;width:79px;height:27px;line-height:31.46px">0.00</div>
<div class="c o r l" style="left:948px;top:762px;width:79px;height:27px;line-height:31.46px">2,014,000.00</div>
<div class="c o nl" style="left:1027px;top:762px;width:165px;height:27px;line-height:31.46px"></div>
<div class="c e l" style="left:359px;top:789px;width:92px;height:28px;line-height:31.46px">FK-240508-02</div>
<div class="c e l" style="left:451px;top:789px;width:87px;height:28px;line-height:31.46px">2023/04/30</div>
<div class="c e" style="left:538px;top:789px;width:94px;height:28px;line-height:31.46px">采购付款</div>
<div class="c e r l" style="left:632px;top:789px;width:79px;height:28px;line-height:31.46px">2,000,000.00</div>
<div class="c e r l" style="left:711px;top:789px;width:79px;height:28px;line-height:31.46px">0.00</div>
<div class="c e r l" style="left:790px;top:789px;width:79px;height:28px;line-height:31.46px">106,000.00</div>
<div class="c e r l" style="left:869px;top:789px;width:79px;height:28px;line-height:31.46px">0.00</div>
<div class="c e r l" style="left:948px;top:789px;width:79px;height:28px;line-height:31.46px">1,894,000.00</div>
<div class="c e nl" style="left:1027px;top:789px;width:165px;height:28px;line-height:31.46px"></div>
<div class="c o" style="left:28px;top:817px;width:119px;height:55px;line-height:31.46px">默认支付宝账户</div>
<div class="c o l" style="left:147px;top:817px;width:119px;height:55px;line-height:31.46px">ZH-240227-003</div>
<div class="c o" style="left:266px;top:817px;width:93px;height:55px;line-height:31.46px">支付宝账户</div>
<div class="c o l" style="left:359px;top:817px;width:92px;height:27px;line-height:31.46px">FK-240624-01</div>
<div class="c o l" style="left:451px;top:817px;width:87px;height:27px;line-height:31.46px">2024/06/24</div>
<div class="c o" style="left:538px;top:817px;width:94px;height:27px;line-height:31.46px">采购付款</div>
<div class="c o r l" style="left:632px;top:817px;width:79px;height:27px;line-height:31.46px">1,830,134.78</div>
<div class="c o r l" style="left:711px;top:817px;width:79px;height:27px;line-height:31.46px">0.00</div>
<div class="c o r l" style="left:790px;top:817px;width:79px;height:27px;line-height:31.46px">12,330.00</div>
<div class="c o r l" style="left:869px;top:817px;width:79px;height:27px;line-height:31.46px">0.00</div>
<div class="c o r l" style="left:948px;top:817px;width:79px;height:27px;line-height:31.46px">1,817,804.78</div>
<div class="c o nl" style="left:1027px;top:817px;width:165px;height:27px;line-height:31.46px"></div>
<div class="c e" style="left:359px;top:844px;width:92px;height:28px;line-height:31.46px"></div>
<div class="c e" style="left:451px;top:844px;width:87px;height:28px;line-height:31.46px"></div>
<div class="c e" style="left:538px;top:844px;width:94px;height:28px;line-height:31.46px"></div>
<div class="c e r" style="left:632px;top:844px;width:79px;height:28px;line-height:31.46px"></div>
<div class="c e r" style="left:711px;top:844px;width:79px;height:28px;line-height:31.46px"></div>
<div class="c e r" style="left:790px;top:844px;width:79px;height:28px;line-height:31.46px"></div>
<div class="c e r" style="left:869px;top:844px;width:79px;height:28px;line-height:31.46px"></div>
<div class="c e r" style="left:948px;top:844px;width:79px;height:28px;line-height:31.46px"></div>
<div class="c e nl" style="left:1027px;top:844px;width:165px;height:28px;line-height:31.46px"></div>
</body>
</html>
